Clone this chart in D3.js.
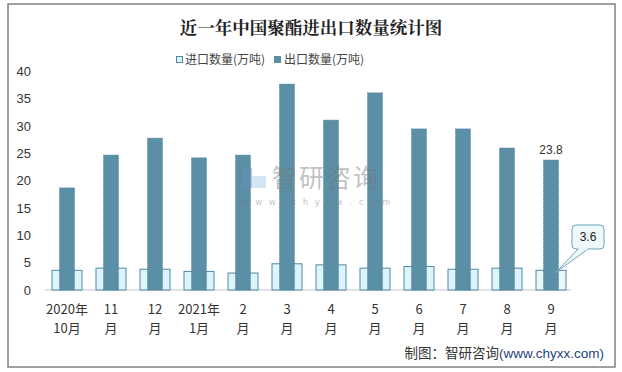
<!DOCTYPE html>
<html><head><meta charset="utf-8">
<script src="https://cdn.jsdelivr.net/npm/d3@7"></script>
<style>body{margin:0;background:#fff}svg{display:block}text{font-family:"Noto Sans CJK SC","Microsoft YaHei",sans-serif}</style>
</head><body><svg id="c" width="622" height="372"></svg>
<script>
const categories = [["2020年","10月"],["11","月"],["12","月"],["2021年","1月"],["2","月"],["3","月"],["4","月"],["5","月"],["6","月"],["7","月"],["8","月"],["9","月"]];
const importVals = [3.6,4.0,3.8,3.4,3.1,4.8,4.6,4.0,4.3,3.8,4.0,3.6];
const exportVals = [18.7,24.7,27.8,24.2,24.7,37.7,31.1,36.1,29.5,29.5,26.0,23.8];
const yTicks = [0,5,10,15,20,25,30,35,40];
const seriesNames = ["进口数量(万吨)","出口数量(万吨)"];

const svg = d3.select("#c");
svg.append("rect").attr("x",8).attr("y",4).attr("width",607).attr("height",363)
  .attr("fill","#fff").attr("stroke","#808080").attr("stroke-width",1.5);

svg.append("text").attr("x",311).attr("y",34).attr("text-anchor","middle")
  .attr("font-size",17.5).attr("font-weight","bold").attr("fill","#222")
  .style("font-family","'Noto Serif CJK SC','Noto Sans CJK SC',serif")
  .text("近一年中国聚酯进出口数量统计图");

const idx = d3.range(categories.length);
const x = d3.scaleBand().domain(idx).range([45,573]);
const y = d3.scaleLinear().domain([0,40]).range([290,71.5]);

// y ticks
const ya = svg.append("g").attr("transform","translate(31,0)")
  .call(d3.axisLeft(y).tickValues(yTicks).tickSize(0).tickPadding(0));
ya.select(".domain").remove();
ya.selectAll("text").attr("font-size",13).attr("fill","#333").style("font-family","Arial,'Liberation Sans',sans-serif");

// x axis
const xa = svg.append("g").attr("transform","translate(0,290)")
  .call(d3.axisBottom(x).tickSize(0).tickFormat(()=>""));
xa.select(".domain").attr("stroke","#d9d9d9").attr("stroke-width",1.5).attr("d","M45,0H571");
xa.selectAll(".tick").each(function(d){
  const g = d3.select(this);
  g.select("text").remove();
  const t = g.append("text").attr("text-anchor","middle").attr("fill","#333").attr("font-size",13);
  t.append("tspan").attr("x",0).attr("y",24).text(categories[d][0]);
  t.append("tspan").attr("x",0).attr("y",43).text(categories[d][1]);
});

const iw = 30, ew = 15;
svg.append("g").selectAll("rect").data(idx).join("rect")
  .attr("x",d=>x(d)+x.bandwidth()/2-iw/2).attr("width",iw)
  .attr("y",d=>y(importVals[d])).attr("height",d=>y(0)-y(importVals[d]))
  .attr("fill",d=>d===11?"#eaf7f5":"#def4fb").attr("stroke","#4f89a6").attr("stroke-width",1);
svg.append("g").selectAll("rect").data(idx).join("rect")
  .attr("x",d=>x(d)+x.bandwidth()/2-ew/2).attr("width",ew)
  .attr("y",d=>y(exportVals[d])).attr("height",d=>y(0)-y(exportVals[d]))
  .attr("fill","#5b8fa6").attr("stroke","#4d7f97").attr("stroke-width",0.8).attr("stroke-dasharray","1,1");

// legend
const lg = svg.append("g").attr("font-size",12).attr("fill","#444");
lg.append("rect").attr("x",176.5).attr("y",56.5).attr("width",6).attr("height",6).attr("fill","#def4fb").attr("stroke","#4f89a6");
lg.append("text").attr("x",185).attr("y",64).attr("fill","#444").text(seriesNames[0]);
lg.append("rect").attr("x",274).attr("y",56).attr("width",7).attr("height",7).attr("fill","#5b8fa6");
lg.append("text").attr("x",284).attr("y",64).attr("fill","#444").text(seriesNames[1]);

// data label 23.8
const last = 11;
svg.append("text").attr("x",x(last)+x.bandwidth()/2).attr("y",y(exportVals[last])-6)
  .attr("text-anchor","middle").attr("font-size",12).attr("fill","#333")
  .style("font-family","Arial,'Liberation Sans',sans-serif").text(exportVals[last].toFixed(1));

// callout 3.6
const px = x(last)+x.bandwidth()/2+5, py = y(importVals[last])+2;
svg.append("path").attr("d",`M578,249 L${px},${py} L588,249`).attr("fill","#eef8f8").attr("stroke","#6aa4b8");
svg.append("rect").attr("x",572).attr("y",225).attr("width",32).attr("height",24).attr("rx",4)
  .attr("fill","#eef8f8").attr("stroke","#6aa4b8");
svg.append("rect").attr("x",578.5).attr("y",247).attr("width",9).attr("height",3).attr("fill","#eef8f8");
svg.append("text").attr("x",588).attr("y",241).attr("text-anchor","middle").attr("font-size",12).attr("fill","#222")
  .style("font-family","Arial,'Liberation Sans',sans-serif").text(importVals[last].toFixed(1));

// watermark
const wm = svg.append("g").attr("opacity",0.45);
wm.append("rect").attr("x",242).attr("y",168).attr("width",10).attr("height",20).attr("fill","#6a8fb8");
wm.append("rect").attr("x",252).attr("y",176).attr("width",14).attr("height",12).attr("fill","#9ec8e8");
wm.append("text").attr("x",272).attr("y",187).attr("font-size",25).attr("fill","#777").attr("letter-spacing",2).text("智研咨询");
wm.append("text").attr("x",242).attr("y",205).attr("font-size",9).attr("fill","#777").attr("letter-spacing",7)
  .style("font-family","Arial,sans-serif").text("www.chyxx.com");

// source
const src = svg.append("text").attr("x",604).attr("y",358).attr("text-anchor","end").attr("font-size",13.5);
src.append("tspan").attr("fill","#333").text("制图：智研咨询");
src.append("tspan").attr("fill","#1f3f7a").style("font-family","Arial,'Liberation Sans',sans-serif").text("(www.chyxx.com)");
</script></body></html>
